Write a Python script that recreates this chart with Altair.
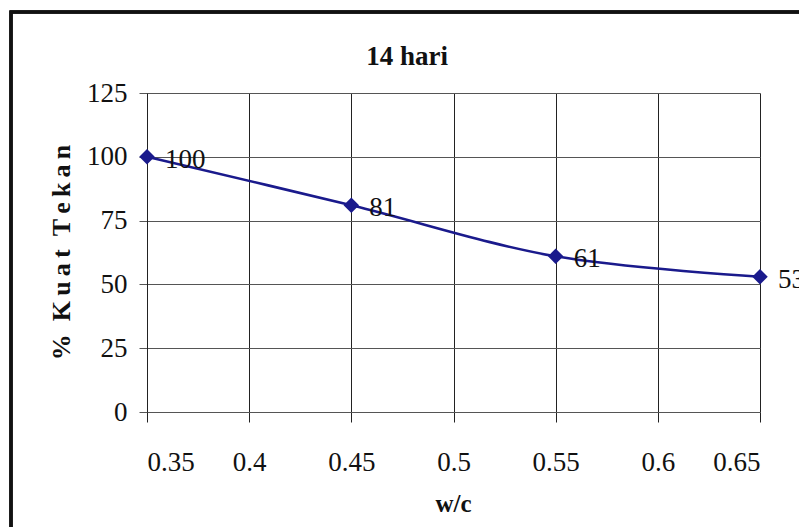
import altair as alt
import pandas as pd

# Compressive strength (% of reference) at 14 days vs water/cement ratio
wc = [0.35, 0.45, 0.55, 0.65]
kuat = [100, 81, 61, 53]
x_ticks = [0.35, 0.4, 0.45, 0.5, 0.55, 0.6, 0.65]
y_ticks = [0, 25, 50, 75, 100, 125]
chart_title = "14 hari"

df = pd.DataFrame({"wc": wc, "kuat": kuat})

SERIF = "Liberation Serif"
NAVY = "#1a1a8c"
SP = "\u2009"      # thin space for letter spacing
GAP = "\u00a0\u00a0"  # word gap that survives whitespace collapsing

y_title = SP.join("%") + GAP + SP.join("Kuat") + GAP + SP.join("Tekan")

x = alt.X(
    "wc:Q",
    scale=alt.Scale(domain=[0.35, 0.65], nice=False, zero=False),
    axis=alt.Axis(
        values=x_ticks, format=".2~f", title="w/c",
        labelFont=SERIF, labelFontSize=27, labelColor="#111",
        labelPadding=27, tickSize=10, tickColor="#222",
        domainColor="#555", gridColor="#222", gridWidth=1,
        titleFont=SERIF, titleFontSize=25, titleFontWeight="bold",
        titleX=306, titleY=91, titleBaseline="middle", titleColor="#111",
    ),
)
y = alt.Y(
    "kuat:Q",
    scale=alt.Scale(domain=[0, 125], nice=False),
    axis=alt.Axis(
        values=y_ticks, title=y_title,
        labelFont=SERIF, labelFontSize=27, labelColor="#111",
        labelPadding=12, tickSize=8, tickColor="#555",
        domainColor="#222", gridColor="#555", gridWidth=1,
        titleFont=SERIF, titleFontSize=26, titleFontWeight="bold",
        titleAngle=270, titleX=-86, titleY=159, titleAlign="center",
        titleBaseline="middle", titleColor="#111",
    ),
)

base = alt.Chart(df)

line = base.mark_line(color=NAVY, strokeWidth=2.6, interpolate="catmull-rom").encode(x=x, y=y)
points = base.mark_point(shape="diamond", filled=True, size=240, color=NAVY, opacity=1).encode(x=x, y=y)
labels = base.mark_text(
    align="left", baseline="middle", dx=18, dy=3,
    font=SERIF, fontSize=27, color="#111",
).encode(x=x, y=y, text="kuat:Q")

title = alt.Chart(pd.DataFrame({"t": [chart_title]})).mark_text(
    font=SERIF, fontSize=27, fontWeight="bold", color="#111",
    align="center", baseline="middle",
).encode(text="t:N", x=alt.value(260), y=alt.value(-36))

frame = alt.Chart(df).mark_rect(fill=None, stroke="#111", strokeWidth=3).encode(
    x=alt.value(-136), x2=alt.value(720), y=alt.value(-81), y2=alt.value(520)
)

chart = (
    alt.layer(frame, line, points, labels, title)
    .properties(
        width=613, height=319,
        autosize=alt.AutoSizeParams(type="none"),
        padding={"left": 147, "top": 93, "right": 39, "bottom": 115},
    )
    .configure_view(stroke=None)
    .configure(background="white")
)

chart.save("out.html", embed_options={"renderer": "svg", "actions": False})
